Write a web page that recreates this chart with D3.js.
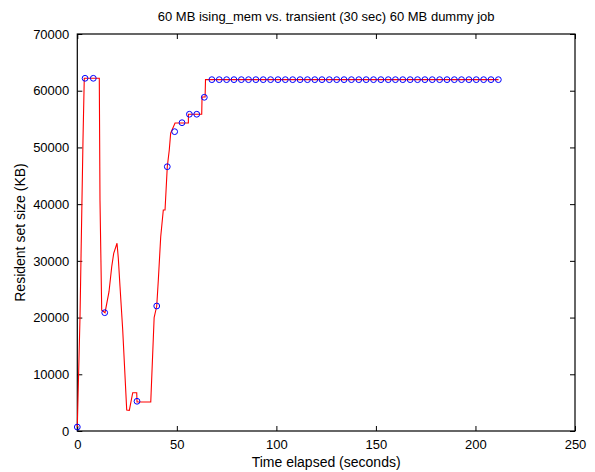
<!DOCTYPE html>
<html><head><meta charset="utf-8">
<script src="https://cdn.jsdelivr.net/npm/d3@7"></script>
<style>body{margin:0;background:#fff}svg{display:block}text{font-family:"Liberation Sans",Arial,sans-serif}</style>
</head><body><svg id="c" width="595" height="472"></svg>
<script>
// Red trace (time in s, RSS in KB)
const lineTime = [0, 1.36, 2.86, 3.5, 11.05, 11.4, 12.26, 13.92, 15.93, 17.29, 18.29, 19.95, 20.6, 21.46, 22.81, 24.82, 26.13, 27.84, 29.85, 30.0, 36.9, 38.6, 39.9, 40.7, 41.9, 43.2, 44.07, 45.2, 46.2, 46.9, 49.1, 55.8, 55.8, 62.5, 62.66, 64.2, 64.4, 211.6];
const lineRSS  = [700, 20100, 51300, 62200, 62200, 40700, 21300, 20860, 24560, 28970, 31330, 33100, 30450, 25440, 17810, 3700, 3650, 6750, 6750, 5110, 5110, 20000, 22040, 26630, 34260, 38970, 38970, 46600, 49550, 52500, 54300, 54300, 55850, 55850, 58900, 58900, 61950, 61950];
// Blue sample markers
const markTime = [0, 3.9, 8.04, 13.77, 30.0, 39.9, 45.2, 48.9, 52.6, 56.3, 60.0, 63.8,
  67.6, 71.3, 75.0, 78.7, 82.4, 86.0, 89.7, 93.4, 97.1, 100.8, 104.5, 108.2, 111.9, 115.6, 119.3, 122.9, 126.6, 130.3, 134.0, 137.7, 141.4, 145.1, 148.8, 152.5, 156.2, 159.8, 163.5, 167.2, 170.9, 174.6, 178.3, 182.0, 185.7, 189.4, 193.0, 196.7, 200.4, 204.1, 207.8, 211.5];
const markRSS = [700, 62190, 62190, 20860, 5240, 22040, 46600, 52780, 54360, 55850, 55850, 58840,
  61950, 61950, 61950, 61950, 61950, 61950, 61950, 61950, 61950, 61950, 61950, 61950, 61950, 61950, 61950, 61950, 61950, 61950, 61950, 61950, 61950, 61950, 61950, 61950, 61950, 61950, 61950, 61950, 61950, 61950, 61950, 61950, 61950, 61950, 61950, 61950, 61950, 61950, 61950, 61950];
const xTicks = [0, 50, 100, 150, 200, 250];
const yTicks = [0, 10000, 20000, 30000, 40000, 50000, 60000, 70000];
const title = "60 MB ising_mem vs. transient (30 sec) 60 MB dummy job";
const xLabel = "Time elapsed (seconds)";
const yLabel = "Resident set size (KB)";

const L = 77.3, R = 575, T = 34, B = 431;
const svg = d3.select("#c");
const x = d3.scaleLinear().domain([0, 250]).range([L, R]);
const y = d3.scaleLinear().domain([0, 70000]).range([B, T]);

const g = svg.append("g");
// axes
const ax = (gen, tr) => {
  const a = g.append("g").attr("transform", tr).call(gen);
  a.select(".domain").remove();
  a.selectAll("line").attr("stroke", "#000");
  a.selectAll("text").attr("font-size", 13).attr("fill", "#000");
  return a;
};
ax(d3.axisBottom(x).tickValues(xTicks).tickFormat(d3.format("d")).tickSizeInner(-5).tickSizeOuter(0).tickPadding(9), `translate(0,${B})`);
ax(d3.axisLeft(y).tickValues(yTicks).tickFormat(d3.format("d")).tickSizeInner(-5).tickSizeOuter(0).tickPadding(8), `translate(${L},0)`);
const topAx = ax(d3.axisTop(x).tickValues(xTicks).tickSizeInner(-5).tickSizeOuter(0), `translate(0,${T})`);
topAx.selectAll("text").remove();
const rightAx = ax(d3.axisRight(y).tickValues(yTicks).tickSizeInner(-5).tickSizeOuter(0), `translate(${R},0)`);
rightAx.selectAll("text").remove();
g.append("rect").attr("x", L).attr("y", T).attr("width", R - L).attr("height", B - T)
  .attr("fill", "none").attr("stroke", "#000").attr("stroke-width", 1.2);

// data
const pts = lineTime.map((t, i) => [t, lineRSS[i]]);
g.append("path").datum(pts)
  .attr("d", d3.line().x(d => x(d[0])).y(d => y(d[1])))
  .attr("fill", "none").attr("stroke", "#ff0000").attr("stroke-width", 1.1);
g.selectAll("circle.m").data(markTime.map((t, i) => [t, markRSS[i]])).enter().append("circle")
  .attr("cx", d => x(d[0])).attr("cy", d => y(d[1])).attr("r", 2.9)
  .attr("fill", "none").attr("stroke", "#0000ff").attr("stroke-width", 1);

svg.append("text").attr("x", (L + R) / 2).attr("y", 21).attr("text-anchor", "middle")
  .attr("font-size", 13).text(title);
svg.append("text").attr("x", (L + R) / 2).attr("y", 467).attr("text-anchor", "middle")
  .attr("font-size", 14).text(xLabel);
svg.append("text").attr("transform", `translate(25,${(T + B) / 2}) rotate(-90)`).attr("text-anchor", "middle")
  .attr("font-size", 14).text(yLabel);
</script></body></html>
